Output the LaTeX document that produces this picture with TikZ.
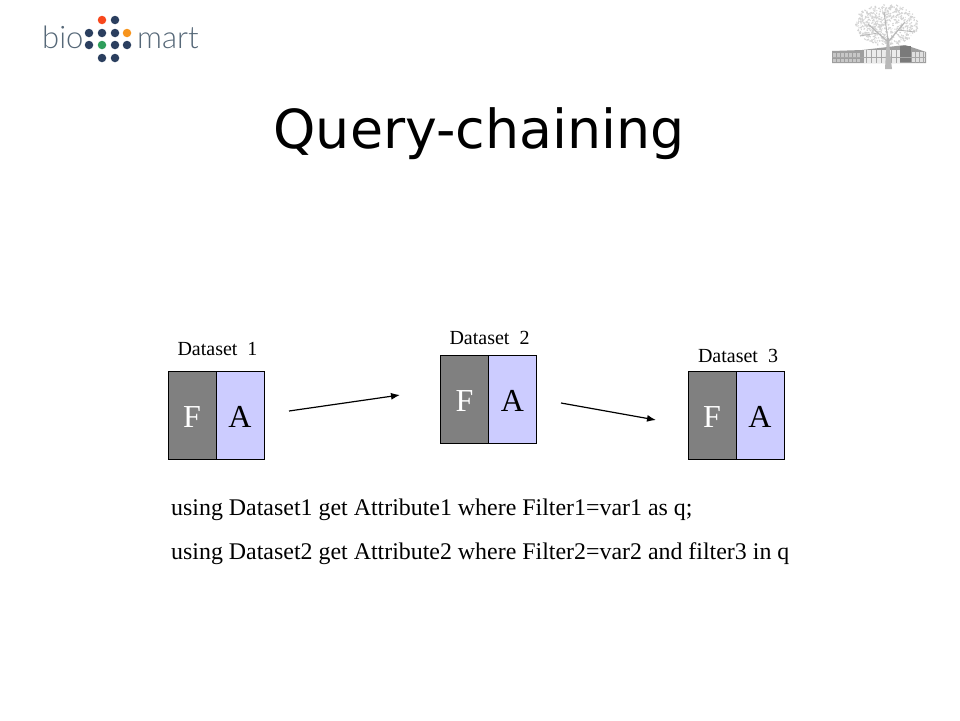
\documentclass[tikz,border=0pt]{standalone}
\usepackage{fontspec}
\setmainfont{Liberation Serif}
\newfontfamily\titlefont{DejaVu Sans}
\newfontfamily\logofont{Lato Light}
\usetikzlibrary{arrows.meta}
\definecolor{fgrey}{HTML}{808080}
\definecolor{alav}{HTML}{CCCCFF}
\definecolor{dotnavy}{HTML}{2B3F5F}
\definecolor{logotext}{HTML}{566878}
\definecolor{logored}{HTML}{F8481C}
\definecolor{logoorange}{HTML}{F7941D}
\definecolor{logogreen}{HTML}{2E9E5B}
\tikzset{
  fbox/.style={draw=black,line width=0.9pt,fill=fgrey,text=white,minimum width=48pt,minimum height=88pt,inner sep=0pt,outer sep=0pt,text height=24pt,text depth=0pt,font=\fontsize{32}{32}\selectfont},
  abox/.style={draw=black,line width=0.9pt,fill=alav,text=black,minimum width=48pt,minimum height=88pt,inner sep=0pt,outer sep=0pt,text height=24pt,text depth=0pt,font=\fontsize{32}{32}\selectfont},
  dslabel/.style={inner sep=0pt,font=\fontsize{20}{20}\selectfont},
  querytext/.style={anchor=base west,inner sep=0pt,font=\fontsize{23.9}{24}\selectfont},
  flow/.style={draw=black,line width=1.2pt,-{Latex[length=9pt,width=7pt]}},
  logodot/.style={circle,fill=dotnavy,inner sep=0pt,minimum size=8.5pt},
  logoword/.style={anchor=base west,inner sep=0pt,text=logotext,font=\logofont\fontsize{31}{31}\selectfont}
}
\begin{document}
\begin{tikzpicture}[x=1pt,y=-1pt]
\useasboundingbox[fill=white] (0,0) rectangle (960,720);
% logo
\node[logoword] (bio) at (42,48) {bio};
\node[logoword] (mart) at (137,48) {mart};
\foreach \px/\py/\pc in {102/20/logored,115/20/dotnavy,89/33/dotnavy,102/33/dotnavy,115/33/dotnavy,127/33/logoorange,89/45/dotnavy,102/45/logogreen,115/45/dotnavy,127/45/dotnavy,102/58/dotnavy,115/58/dotnavy}{
  \node[logodot,fill=\pc] at (\px,\py) {};
}
% tree and building
\pgfmathsetseed{7}
\begin{scope}
\foreach \i in {1,...,520}{
  \pgfmathsetmacro{\ang}{rnd*360}
  \pgfmathsetmacro{\rad}{sqrt(rnd)}
  \pgfmathsetmacro{\cx}{887+31*\rad*cos(\ang)}
  \pgfmathsetmacro{\cy}{25+20*\rad*sin(\ang)}
  \pgfmathsetmacro{\dx}{2*rnd-1}
  \pgfmathsetmacro{\dy}{2*rnd-1}
  \draw[black!17,line width=1.1pt] (\cx,\cy) -- ++(2*\dx,2*\dy);
}
\fill[black!38] (832,51) -- (862,50) -- (905,45) -- (926,52) -- (926,63) -- (832,63) -- cycle;
\fill[black!22] (833,52.5) rectangle (860,56.5);
\fill[black!22] (833,58.5) rectangle (860,62);
\fill[black!8] (864,50) rectangle (900,62.5);
\fill[black!52] (900,46) rectangle (911,62);
\fill[black!12] (912,52) rectangle (925,62);
\foreach \gx in {836,840,...,860}{\draw[black!38,line width=0.6pt] (\gx,52) -- (\gx,63);}
\foreach \gx in {866,871,...,898}{\draw[black!35,line width=0.6pt] (\gx,50) -- (\gx,63);}
\draw[black!35,line width=0.6pt] (832,57.5) -- (926,57.5);
\foreach \gx in {915,919,923}{\draw[black!35,line width=0.6pt] (\gx,52) -- (\gx,63);}
\fill[black!28] (885,69) -- (892,69) -- (890,52) -- (889,38) -- (887,38) -- (886,52) -- cycle;
\draw[black!28,line width=1.2pt] (888,42) -- (868,24);
\draw[black!28,line width=1.2pt] (888,42) -- (905,22);
\draw[black!28,line width=1pt] (888,40) -- (884,12);
\draw[black!28,line width=0.8pt] (878,33) -- (860,36);
\draw[black!28,line width=0.8pt] (898,30) -- (915,32);
\end{scope}
% title
\node[inner sep=0pt,anchor=base,font=\titlefont\fontsize{53.8}{54}\selectfont] (title) at (479,148) {Query-chaining};
% boxes
\node[fbox] (f1) at (192,415) {F};
\node[abox] (a1) at (240,415) {A};
\node[fbox] (f2) at (464.5,399) {F};
\node[abox] (a2) at (512.5,399) {A};
\node[fbox] (f3) at (712,415) {F};
\node[abox] (a3) at (760,415) {A};
% labels
\node[dslabel] (d1) at (217.5,349) {Dataset\ \ 1};
\node[dslabel] (d2) at (489.5,338) {Dataset\ \ 2};
\node[dslabel] (d3) at (738,356) {Dataset\ \ 3};
% connectors
\coordinate (s1) at (289,411);
\coordinate (e1) at (400,395);
\coordinate (s2) at (561,403);
\coordinate (e2) at (656,420);
\draw[flow] (s1) -- (e1);
\draw[flow] (s2) -- (e2);
% query
\node[querytext] (q1) at (171,515) {using Dataset1 get Attribute1 where Filter1=var1 as q;};
\node[querytext] (q2) at (171,559) {using Dataset2 get Attribute2 where Filter2=var2 and filter3 in q};
\end{tikzpicture}
\end{document}
